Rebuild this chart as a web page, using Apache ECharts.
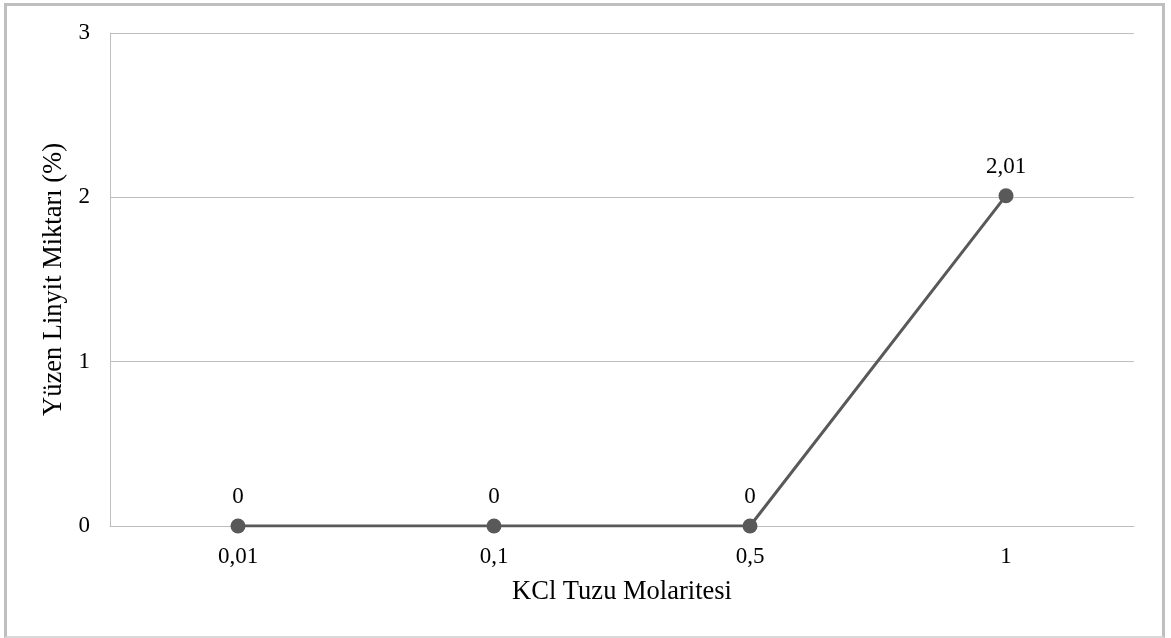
<!DOCTYPE html>
<html>
<head>
<meta charset="utf-8">
<script src="https://cdn.jsdelivr.net/npm/echarts@6/dist/echarts.min.js"></script>
<style>
html,body{margin:0;padding:0;background:#fff;}
#c{position:absolute;left:4px;top:3px;width:1155px;height:630px;border:3px solid #bfbfbf;border-bottom:2px solid #d9d9d9;}
#chart{width:1171px;height:638px;position:absolute;left:0;top:0;}
</style>
</head>
<body>
<div id="c"></div>
<div id="chart"></div>
<script>
const categories = ['0,01', '0,1', '0,5', '1'];
const values = [0, 0, 0, 2.01];
const yTicks = [0, 1, 2, 3];
const xTitle = 'KCl Tuzu Molaritesi';
const yTitle = 'Yüzen Linyit Miktarı (%)';

const font = '"Liberation Serif", "Times New Roman", serif';
const chart = echarts.init(document.getElementById('chart'), null, {renderer: 'canvas'});
chart.setOption({
  animation: false,
  backgroundColor: 'transparent',
  grid: {left: 110, right: 37, top: 33, bottom: 112},
  xAxis: {
    type: 'category',
    data: categories,
    boundaryGap: true,
    name: xTitle,
    nameLocation: 'middle',
    nameGap: 53,
    nameTextStyle: {fontFamily: font, fontSize: 26.5, color: '#000'},
    axisLine: {show: true, lineStyle: {color: '#bfbfbf', width: 1}},
    axisTick: {show: false},
    axisLabel: {fontFamily: font, fontSize: 23, color: '#000', margin: 19}
  },
  yAxis: {
    type: 'value',
    min: yTicks[0],
    max: yTicks[yTicks.length - 1],
    interval: 1,
    name: yTitle,
    nameLocation: 'middle',
    nameGap: 42,
    nameTextStyle: {fontFamily: font, fontSize: 26.5, color: '#000'},
    axisLine: {show: true, lineStyle: {color: '#bfbfbf', width: 1}},
    axisTick: {show: false},
    splitLine: {show: true, lineStyle: {color: '#bfbfbf', width: 1}},
    axisLabel: {fontFamily: font, fontSize: 23, color: '#000', margin: 20,
      formatter: v => String(v).replace('.', ',')}
  },
  series: [{
    type: 'line',
    data: values,
    symbol: 'circle',
    symbolSize: 15,
    lineStyle: {color: '#595959', width: 3},
    itemStyle: {color: '#595959'},
    label: {show: true, position: 'top', distance: 10, fontFamily: font, fontSize: 23, color: '#000',
      formatter: p => String(p.value).replace('.', ',')}
  }]
});
</script>
</body>
</html>
